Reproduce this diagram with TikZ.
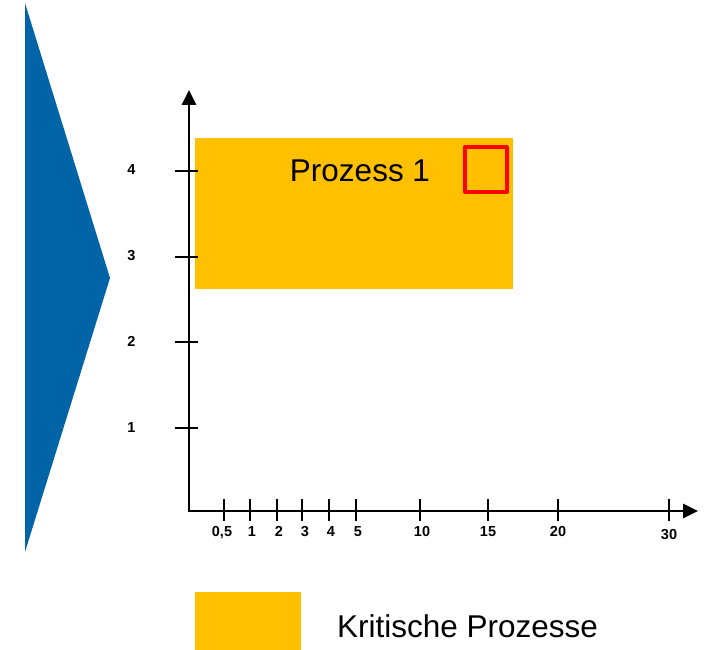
\documentclass[tikz,border=0pt]{standalone}
\usepackage{fontspec}
\setmainfont{Liberation Sans}
\usetikzlibrary{arrows.meta}
\definecolor{tblue}{RGB}{0,100,166}
\definecolor{korange}{RGB}{255,192,0}
\definecolor{kred}{RGB}{255,0,0}
\tikzset{
  axisline/.style={line width=2.8pt,-{Triangle[length=15pt,width=14pt]}},
  tickline/.style={line width=2.8pt},
  ticklab/.style={font=\fontsize{14.5}{16}\selectfont\bfseries,inner sep=0pt,anchor=base},
  bigtext/.style={font=\fontsize{31.5}{34}\selectfont,inner sep=0pt},
}
\begin{document}
\begin{tikzpicture}[x=1pt,y=-1pt]
\useasboundingbox (0,0) rectangle (705,650);
% blue chevron
\fill[tblue] (25,3) -- (110,278) -- (25,552) -- cycle;
% orange process box
\fill[korange] (195,138) rectangle (513,289);
\node[bigtext] (p1) at (360,171) {Prozess 1};
\draw[kred,line width=4pt,line join=round] (465,147) rectangle (507,192);
% axes
\coordinate (O) at (189,511);
\coordinate (Ytop) at (189,90);
\coordinate (Xend) at (698,511);
\draw[axisline] ([yshift=1.4pt]O) -- (Ytop);
\draw[axisline] ([xshift=-1.4pt]O) -- (Xend);
% y ticks
\foreach \v/\yy in {4/171,3/257,2/342,1/428}{
  \draw[tickline] (175,\yy) -- (198,\yy);
  \node[ticklab] (yl\v) at (131.5,\yy+4) {\v};
}
% x ticks
\foreach \xx in {224,250,277,302,329,356,420,488,558,669}{
  \draw[tickline] (\xx,499) -- (\xx,521);
}
\foreach \v/\xx/\yy/\n in {{0,5}/222/536/a,1/252/536/b,2/279/536/c,3/305/536/d,4/331/536/e,5/358/536/f,10/422/536/g,15/488/536/h,20/558/536/i,30/669/539/j}{
  \node[ticklab] (xl\n) at (\xx,\yy) {\v};
}
% legend
\fill[korange] (195,592) rectangle (301,650);
\node[bigtext,anchor=west] (leg) at (337,626) {Kritische Prozesse};
\end{tikzpicture}
\end{document}
